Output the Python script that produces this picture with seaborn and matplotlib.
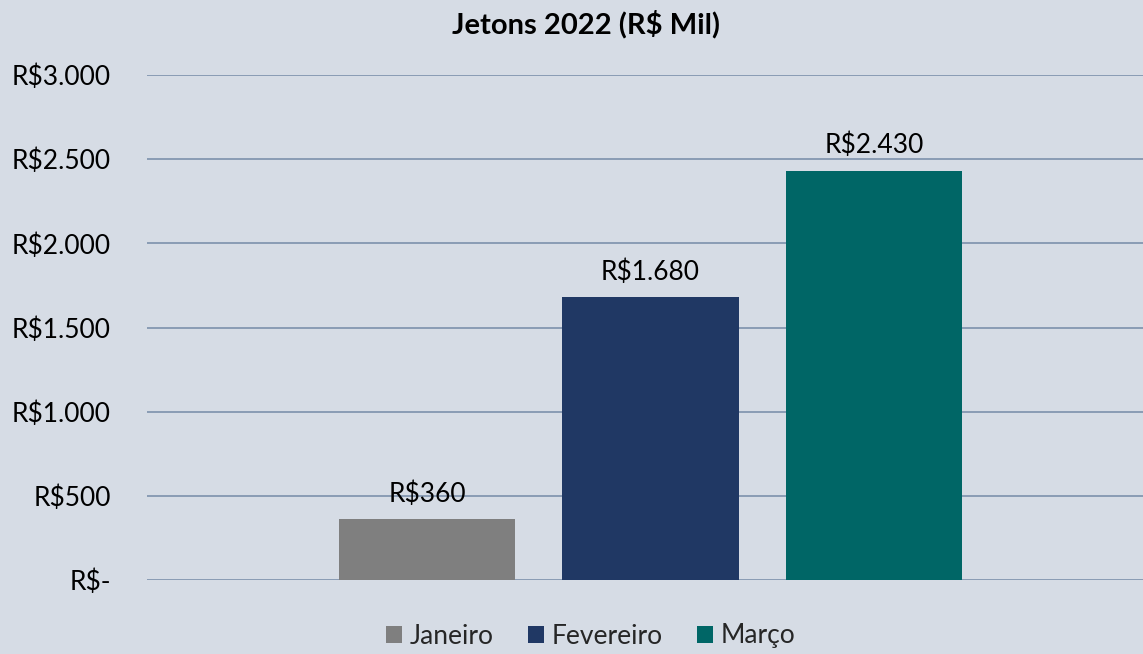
import matplotlib
matplotlib.use("Agg")
import matplotlib.pyplot as plt
import pandas as pd
import seaborn as sns
from matplotlib.patches import Patch

months = ["Janeiro", "Fevereiro", "Março"]
values = [360, 1680, 2430]
colors = ["#7F7F7F", "#203864", "#006666"]
y_ticks = [0, 500, 1000, 1500, 2000, 2500, 3000]
title = "Jetons 2022 (R$ Mil)"

BG = "#D6DCE5"
GRID = "#8497B0"


def brl(v):
    if v == 0:
        return "R$-"
    return "R$" + f"{int(v):,}".replace(",", ".")


df = pd.DataFrame({"grupo": [""] * len(months), "mes": months, "valor": values})

sns.set_theme(style="white")
plt.rcParams["font.family"] = ["Lato", "DejaVu Sans"]

fig = plt.figure(figsize=(11.43, 6.54), dpi=100, facecolor=BG)
ax = fig.add_axes([147 / 1143, 1 - 580 / 654, (1143 - 147) / 1143, (580 - 75) / 654])
ax.set_facecolor(BG)

sns.barplot(
    data=df, x="grupo", y="valor", hue="mes", hue_order=months,
    palette=colors, width=0.673, gap=0.21, saturation=1, ax=ax, legend=False,
    edgecolor="none", linewidth=0, zorder=3,
)

ax.set_ylim(0, 3000)
ax.set_xlim(-0.5055, 0.4945)
ax.set_yticks(y_ticks)
ax.set_yticklabels([brl(v) for v in y_ticks], fontsize=19, color="#000000")
ax.tick_params(axis="y", length=0, pad=26)
ax.set_xticks([])
ax.set_xlabel("")
ax.set_ylabel("")
for s in ax.spines.values():
    s.set_visible(False)
ax.yaxis.grid(True, color=GRID, linewidth=1.3, zorder=0)
ax.set_axisbelow(True)

for container in ax.containers:
    ax.bar_label(container, labels=[brl(v) for v in container.datavalues],
                 fontsize=19, padding=9, color="#000000")

fig.text(586 / 1143, 1 - 24 / 654, title, ha="center", va="center",
         fontsize=21, fontweight="bold", color="#000000")

handles = [Patch(facecolor=c, edgecolor="none") for c in colors]
fig.legend(handles, months, loc="center", bbox_to_anchor=(591 / 1143, 1 - 636 / 654),
           ncol=3, frameon=False, fontsize=19, handlelength=0.6, handleheight=0.6,
           handletextpad=0.3, columnspacing=1.3)

fig.savefig("out.png", dpi=100, facecolor=BG)
